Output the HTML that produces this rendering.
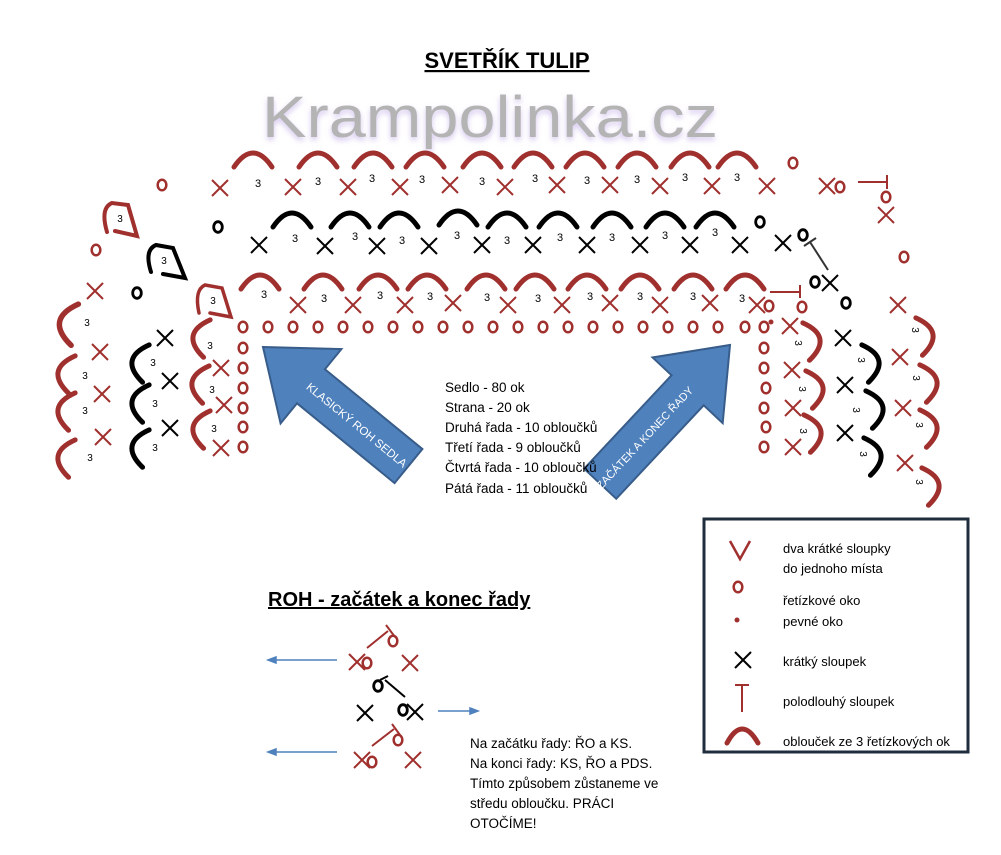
<!DOCTYPE html>
<html><head><meta charset="utf-8"><style>
html,body{margin:0;padding:0;background:#fff;}
svg{display:block;}
text{font-family:"Liberation Sans",sans-serif;}
</style></head><body>
<svg width="1001" height="855" viewBox="0 0 1001 855" xmlns="http://www.w3.org/2000/svg">
<defs>
<path id="ar" d="M-19,9 Q0,-19 19,9" fill="none" stroke="#a0302e" stroke-width="5" stroke-linecap="round"/>
<path id="ab" d="M-19,9 Q0,-19 19,9" fill="none" stroke="#000" stroke-width="5" stroke-linecap="round"/>
<path id="xr" d="M-8,-8 L8,8 M8,-8 L-8,8" stroke="#a0302e" stroke-width="2"/>
<path id="xb" d="M-8,-8 L8,8 M8,-8 L-8,8" stroke="#000" stroke-width="2"/>
<ellipse id="or" rx="4.3" ry="5.3" fill="none" stroke="#a0302e" stroke-width="2.5"/>
<ellipse id="ob" rx="4.3" ry="5.3" fill="none" stroke="#000" stroke-width="2.8"/>
<filter id="glow"><feGaussianBlur stdDeviation="3"/></filter>
</defs>

<text x="507" y="68" text-anchor="middle" font-size="22" font-weight="bold" text-decoration="underline">SVETŘÍK TULIP</text>
<text x="262" y="140" font-size="58" fill="#d4c6ee" filter="url(#glow)" textLength="456" lengthAdjust="spacingAndGlyphs">Krampolinka.cz</text>
<text x="262" y="137" font-size="58" fill="#b4b4b4" textLength="456" lengthAdjust="spacingAndGlyphs">Krampolinka.cz</text>

<!-- top red arcs -->
<g>
<use href="#ar" x="253" y="158"/><use href="#ar" x="318" y="158"/><use href="#ar" x="373" y="158"/><use href="#ar" x="425" y="158"/><use href="#ar" x="482" y="158"/><use href="#ar" x="533" y="158"/><use href="#ar" x="585" y="158"/><use href="#ar" x="637" y="158"/><use href="#ar" x="690" y="158"/><use href="#ar" x="737" y="158"/>
<use href="#xr" x="220" y="188"/><use href="#xr" x="293" y="187"/><use href="#xr" x="348" y="187"/><use href="#xr" x="400" y="187"/><use href="#xr" x="450" y="185"/><use href="#xr" x="505" y="187"/><use href="#xr" x="557" y="185"/><use href="#xr" x="610" y="185"/><use href="#xr" x="660" y="186"/><use href="#xr" x="712" y="186"/><use href="#xr" x="767" y="186"/>
</g>
<g font-size="11" text-anchor="middle">
<text x="258" y="187">3</text><text x="318" y="185">3</text><text x="372" y="182">3</text><text x="422" y="183">3</text><text x="482" y="185">3</text><text x="535" y="182">3</text><text x="587" y="184">3</text><text x="637" y="183">3</text><text x="685" y="181">3</text><text x="737" y="181">3</text>
</g>
<!-- black row -->
<use href="#ob" x="218" y="227"/>
<g>
<use href="#ab" x="292" y="218"/><use href="#ab" x="350" y="218"/><use href="#ab" x="399" y="218"/><use href="#ab" x="458" y="216"/><use href="#ab" x="507" y="218"/><use href="#ab" x="558" y="218"/><use href="#ab" x="612" y="218"/><use href="#ab" x="665" y="218"/><use href="#ab" x="715" y="218"/>
<use href="#xb" x="259" y="245"/><use href="#xb" x="325" y="246"/><use href="#xb" x="377" y="246"/><use href="#xb" x="429" y="246"/><use href="#xb" x="482" y="245"/><use href="#xb" x="533" y="245"/><use href="#xb" x="587" y="245"/><use href="#xb" x="640" y="245"/><use href="#xb" x="690" y="245"/><use href="#xb" x="740" y="245"/>
</g>
<g font-size="11" text-anchor="middle">
<text x="295" y="242">3</text><text x="355" y="240">3</text><text x="402" y="244">3</text><text x="457" y="239">3</text><text x="507" y="244">3</text><text x="560" y="241">3</text><text x="612" y="241">3</text><text x="665" y="239">3</text><text x="715" y="236">3</text>
</g>
<use href="#ob" x="760" y="222"/>
<!-- red row 3 -->
<g>
<use href="#ar" x="260" y="280"/><use href="#ar" x="323" y="280"/><use href="#ar" x="378" y="280"/><use href="#ar" x="427" y="280"/><use href="#ar" x="486" y="280"/><use href="#ar" x="535" y="280"/><use href="#ar" x="587" y="280"/><use href="#ar" x="640" y="280"/><use href="#ar" x="693" y="280"/><use href="#ar" x="745" y="280"/>
<use href="#xr" x="298" y="305"/><use href="#xr" x="353" y="305"/><use href="#xr" x="405" y="305"/><use href="#xr" x="453" y="303"/><use href="#xr" x="508" y="305"/><use href="#xr" x="562" y="305"/><use href="#xr" x="610" y="303"/><use href="#xr" x="660" y="305"/><use href="#xr" x="710" y="303"/><use href="#xr" x="757" y="305"/>
</g>
<g font-size="11" text-anchor="middle">
<text x="264" y="298">3</text><text x="324" y="302">3</text><text x="380" y="299">3</text><text x="430" y="300">3</text><text x="487" y="301">3</text><text x="538" y="302">3</text><text x="590" y="300">3</text><text x="640" y="300">3</text><text x="693" y="300">3</text><text x="742" y="302">3</text>
</g>
<!-- chain row -->
<g>
<use href="#or" x="243" y="327"/><use href="#or" x="268" y="327"/><use href="#or" x="293" y="327"/><use href="#or" x="318" y="327"/><use href="#or" x="343" y="327"/><use href="#or" x="368" y="327"/><use href="#or" x="393" y="327"/><use href="#or" x="418" y="327"/><use href="#or" x="443" y="327"/><use href="#or" x="468" y="327"/><use href="#or" x="493" y="327"/><use href="#or" x="518" y="327"/><use href="#or" x="543" y="327"/><use href="#or" x="568" y="327"/><use href="#or" x="593" y="327"/><use href="#or" x="618" y="327"/><use href="#or" x="643" y="327"/><use href="#or" x="668" y="327"/><use href="#or" x="693" y="327"/><use href="#or" x="718" y="327"/><use href="#or" x="745" y="327"/><use href="#or" x="769" y="306"/>
<use href="#or" x="243" y="348"/><use href="#or" x="243" y="368"/><use href="#or" x="243" y="388"/><use href="#or" x="243" y="408"/><use href="#or" x="243" y="427"/><use href="#or" x="243" y="447"/>
<use href="#or" x="764" y="327"/><use href="#or" x="764" y="348"/><use href="#or" x="764" y="368"/><use href="#or" x="766" y="388"/><use href="#or" x="764" y="408"/><use href="#or" x="766" y="427"/><use href="#or" x="764" y="447"/>
<circle cx="771" cy="322" r="2.5" fill="#a0302e"/>
</g>
<!-- left side -->
<g>
<use href="#ar" transform="translate(198,337) rotate(-80)"/>
<use href="#ar" transform="translate(197,383) rotate(-80)"/>
<use href="#ar" transform="translate(198,428) rotate(-80)"/>
<use href="#xr" x="221" y="368"/><use href="#xr" x="224" y="405"/><use href="#xr" x="221" y="448"/>
<use href="#ab" transform="translate(137,362) rotate(-80)"/>
<use href="#ab" transform="translate(137,402) rotate(-80)"/>
<use href="#ab" transform="translate(137,447) rotate(-80)"/>
<use href="#xb" x="165" y="338"/><use href="#xb" x="170" y="381"/><use href="#xb" x="170" y="428"/>
<use href="#ar" transform="translate(65,323) rotate(-80) scale(1.1)"/>
<use href="#ar" transform="translate(63,373) rotate(-80)"/>
<use href="#ar" transform="translate(63,410) rotate(-80)"/>
<use href="#ar" transform="translate(63,457) rotate(-80)"/>
<use href="#xr" x="95" y="291"/><use href="#xr" x="100" y="352"/><use href="#xr" x="102" y="394"/><use href="#xr" x="103" y="437"/>
<use href="#or" x="96" y="250"/><use href="#ob" x="137" y="293"/><use href="#or" x="162" y="185"/>
<path d="M107,232 Q100,208 112,203 L128,205 L137,236 L115,231" fill="none" stroke="#a0302e" stroke-width="4" stroke-linecap="round"/>
<path d="M151,272 Q144,250 156,245 L173,248 L185,278 L163,274" fill="none" stroke="#000" stroke-width="4" stroke-linecap="round"/>
<path d="M199,313 Q194,290 205,285 L222,288 L231,317 L210,313" fill="none" stroke="#a0302e" stroke-width="3.5" stroke-linecap="round"/>
</g>
<g font-size="10" text-anchor="middle">
<text x="120" y="222">3</text><text x="164" y="264">3</text><text x="213" y="304">3</text>
<text x="210" y="349">3</text><text x="212" y="393">3</text><text x="214" y="432">3</text>
<text x="153" y="366">3</text><text x="155" y="407">3</text><text x="155" y="451">3</text>
<text x="87" y="326">3</text><text x="85" y="379">3</text><text x="85" y="414">3</text><text x="90" y="461">3</text>
</g>
<!-- right side -->
<g>
<use href="#or" x="793" y="163"/>
<use href="#xr" x="827" y="186"/><use href="#or" x="840" y="187"/>
<path d="M858,182 L887,182 M887,175 L887,189" stroke="#a0302e" stroke-width="2"/>
<use href="#or" x="886" y="197"/><use href="#xr" x="886" y="215"/><use href="#or" x="904" y="257"/>
<use href="#xb" x="783" y="243"/><use href="#ob" x="803" y="235"/>
<path d="M810,242 L828,270 M804,246 L816,238" stroke="#333" stroke-width="2"/>
<use href="#ob" x="815" y="282"/><use href="#xb" x="830" y="283"/><use href="#ob" x="846" y="303"/>
<path d="M770,292 L800,292 M800,285 L800,298" stroke="#a0302e" stroke-width="2"/>
<use href="#or" x="802" y="307"/>
<use href="#xr" x="898" y="305"/>
<use href="#ar" transform="translate(928,335) rotate(80)"/>
<use href="#ar" transform="translate(932,382) rotate(80)"/>
<use href="#ar" transform="translate(932,427) rotate(80)"/>
<use href="#ar" transform="translate(934,485) rotate(80)"/>
<use href="#xr" x="900" y="357"/><use href="#xr" x="903" y="408"/><use href="#xr" x="905" y="463"/>
<use href="#ab" transform="translate(874,362) rotate(80)"/>
<use href="#ab" transform="translate(878,408) rotate(80)"/>
<use href="#ab" transform="translate(876,455) rotate(80)"/>
<use href="#xb" x="843" y="338"/><use href="#xb" x="845" y="385"/><use href="#xb" x="845" y="433"/>
<use href="#ar" transform="translate(815,340) rotate(80)"/>
<use href="#ar" transform="translate(818,388) rotate(80)"/>
<use href="#ar" transform="translate(816,432) rotate(80)"/>
<use href="#xr" x="790" y="326"/><use href="#xr" x="792" y="370"/><use href="#xr" x="793" y="408"/><use href="#xr" x="793" y="447"/>
</g>
<g font-size="10" text-anchor="middle">
<text transform="translate(912,330) rotate(90)">3</text><text transform="translate(913,378) rotate(90)">3</text><text transform="translate(916,425) rotate(90)">3</text><text transform="translate(916,482) rotate(90)">3</text>
<text transform="translate(858,360) rotate(90)">3</text><text transform="translate(853,410) rotate(90)">3</text><text transform="translate(860,454) rotate(90)">3</text>
<text transform="translate(795,343) rotate(90)">3</text><text transform="translate(799,389) rotate(90)">3</text><text transform="translate(800,431) rotate(90)">3</text>
</g>

<!-- big arrows -->
<g transform="translate(263,347) rotate(39.3)">
<polygon points="0,0 62,-48 62,-22 188,-22 188,22 62,22 62,48" fill="#4f81bd" stroke="#385d8a" stroke-width="2"/>
<text x="122" y="5" text-anchor="middle" font-size="11.5" fill="#fff">KLASICKÝ ROH SEDLA</text>
</g>
<g transform="translate(730,345) rotate(133.1)">
<polygon points="0,0 62,-48 62,-22 190,-22 190,22 62,22 62,48" fill="#4f81bd" stroke="#385d8a" stroke-width="2"/>
<text transform="translate(126,0) rotate(180)" x="0" y="5" text-anchor="middle" font-size="11" fill="#fff">ZAČÁTEK A KONEC ŘADY</text>
</g>

<g font-size="13.5">
<text x="445" y="392">Sedlo - 80 ok</text>
<text x="445" y="412">Strana - 20 ok</text>
<text x="445" y="432">Druhá řada - 10 obloučků</text>
<text x="445" y="452">Třetí řada - 9 obloučků</text>
<text x="445" y="472">Čtvrtá řada - 10 obloučků</text>
<text x="445" y="493">Pátá řada - 11 obloučků</text>
</g>

<text x="268" y="606" font-size="20" font-weight="bold" text-decoration="underline">ROH - začátek a konec řady</text>

<!-- small diagram -->
<g stroke="#4f81bd" stroke-width="1.5" fill="#4f81bd">
<line x1="337" y1="660" x2="272" y2="660"/><polygon points="268,660 276,657 276,663"/>
<line x1="337" y1="752" x2="272" y2="752"/><polygon points="268,752 276,749 276,755"/>
<line x1="438" y1="711" x2="473" y2="711"/><polygon points="478,711 470,708 470,714"/>
</g>
<g>
<use href="#xr" x="357" y="662"/><use href="#or" x="367" y="663"/>
<path d="M367,648 L388,631 M386,625 L395,637" stroke="#a0302e" stroke-width="2"/>
<use href="#or" x="393" y="641"/><use href="#xr" x="410" y="663"/>
<use href="#ob" x="378" y="686"/>
<path d="M385,680 L405,697 M380,680 L388,676" stroke="#000" stroke-width="2"/>
<use href="#xb" x="365" y="713"/><use href="#ob" x="403" y="710"/><use href="#xb" x="415" y="712"/>
<path d="M372,746 L394,729 M392,724 L400,735" stroke="#a0302e" stroke-width="2"/>
<use href="#or" x="398" y="740"/>
<use href="#xr" x="362" y="760"/><use href="#or" x="372" y="762"/><use href="#xr" x="413" y="760"/>
</g>
<g font-size="13.5">
<text x="470" y="748">Na začátku řady: ŘO a KS.</text>
<text x="470" y="768">Na konci řady: KS, ŘO a PDS.</text>
<text x="470" y="788">Tímto způsobem zůstaneme ve</text>
<text x="470" y="808">středu obloučku. PRÁCI</text>
<text x="470" y="828">OTOČÍME!</text>
</g>

<!-- legend -->
<rect x="704" y="519" width="264" height="233" fill="none" stroke="#1f2d3d" stroke-width="3"/>
<path d="M730,541 L740,559 L750,541" fill="none" stroke="#a0302e" stroke-width="2.5"/>
<use href="#or" x="738" y="587"/>
<circle cx="737" cy="620" r="2.5" fill="#a0302e"/>
<use href="#xb" x="743" y="660"/>
<path d="M735,685 L749,685 M742,685 L742,712" stroke="#a0302e" stroke-width="2"/>
<path d="M727,743 Q742,715 758,743" fill="none" stroke="#a0302e" stroke-width="5" stroke-linecap="round"/>
<g font-size="13">
<text x="783" y="553">dva krátké sloupky</text>
<text x="783" y="573">do jednoho místa</text>
<text x="783" y="605">řetízkové oko</text>
<text x="783" y="626">pevné oko</text>
<text x="783" y="666">krátký sloupek</text>
<text x="783" y="706">polodlouhý sloupek</text>
<text x="783" y="746">oblouček ze 3 řetízkových ok</text>
</g>
</svg>
</body></html>
